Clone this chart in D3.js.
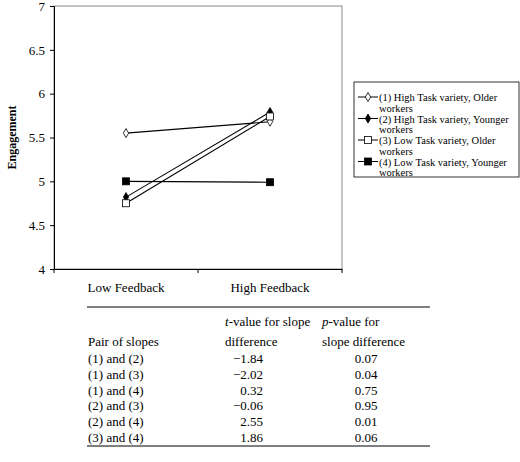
<!DOCTYPE html>
<html><head><meta charset="utf-8">
<script src="https://cdn.jsdelivr.net/npm/d3@7"></script>
<style>body{margin:0;background:#fff;} svg text{font-family:"Liberation Serif","Times New Roman",Tinos,serif !important;fill:#000;}</style>
</head><body><div id="chart"></div>
<script>
var categories = ["Low Feedback", "High Feedback"];
var seriesNames = ["(1) High Task variety, Older workers", "(2) High Task variety, Younger workers",
                   "(3) Low Task variety, Older workers", "(4) Low Task variety, Younger workers"];
var legendLines = [["(1) High Task variety, Older", "workers"], ["(2) High Task variety, Younger", "workers"],
                   ["(3) Low Task variety, Older", "workers"], ["(4) Low Task variety, Younger", "workers"]];
var series1 = [5.55, 5.68];
var series2 = [4.82, 5.79];
var series3 = [4.75, 5.74];
var series4 = [5.00, 4.99];
var yTicks = [4, 4.5, 5, 5.5, 6, 6.5, 7];
var tablePairs = ["(1) and (2)", "(1) and (3)", "(1) and (4)", "(2) and (3)", "(2) and (4)", "(3) and (4)"];
var tValues = ["\u22121.84", "\u22122.02", "0.32", "\u22120.06", "2.55", "1.86"];
var pValues = ["0.07", "0.04", "0.75", "0.95", "0.01", "0.06"];

var svg = d3.select("#chart").append("svg").attr("width", 520).attr("height", 462)
  .attr("font-family", "Liberation Serif, Times New Roman, serif");
var margin = {left: 54, top: 6, right: 342, bottom: 269};

var x = d3.scaleBand().domain(categories).range([margin.left, margin.right]);
var y = d3.scaleLinear().domain([4, 7]).range([margin.bottom, margin.top]);

// plot frame
svg.append("rect").attr("x", margin.left).attr("y", margin.top)
  .attr("width", margin.right - margin.left).attr("height", margin.bottom - margin.top)
  .attr("fill", "none").attr("stroke", "#888").attr("stroke-width", 1);

var yAxis = svg.append("g").attr("transform", "translate(" + margin.left + ",0)")
  .call(d3.axisLeft(y).tickValues(yTicks).tickFormat(d3.format("")).tickSize(4));
yAxis.attr("font-family", null);
yAxis.select(".domain").attr("stroke", "#000");
yAxis.selectAll("text").style("font-size", "13px").attr("dx", "-2");

var xAxis = svg.append("g").attr("transform", "translate(0," + margin.bottom + ")")
  .call(d3.axisBottom(x).tickSize(0).tickPadding(14));
xAxis.attr("font-family", null);
xAxis.select(".domain").attr("stroke", "#000");
xAxis.selectAll("text").style("font-size", "13px");
// band boundary ticks
svg.selectAll(".btick").data([0, 1, 2]).enter().append("line")
  .attr("x1", function(d) { return margin.left + d * x.bandwidth(); })
  .attr("x2", function(d) { return margin.left + d * x.bandwidth(); })
  .attr("y1", margin.bottom).attr("y2", margin.bottom + 4).attr("stroke", "#000");

svg.append("text").attr("transform", "translate(16," + y(5.5) + ") rotate(-90)")
  .attr("text-anchor", "middle").style("font-size", "12px").style("font-weight", "bold").text("Engagement");

var allSeries = [series1, series2, series3, series4];
var markers = ["diamondOpen", "diamond", "squareOpen", "square"];
var line = d3.line().x(function(d, i) { return x(categories[i]) + x.bandwidth() / 2; }).y(function(d) { return y(d); });

function drawMarker(g, type, cx, cy) {
  if (type.indexOf("diamond") === 0) {
    g.append("path").attr("d", d3.symbol(d3.symbolDiamond, 24)())
      .attr("transform", "translate(" + cx + "," + cy + ")")
      .attr("fill", type === "diamond" ? "#000" : "#fff").attr("stroke", "#000").attr("stroke-width", 0.8);
  } else {
    g.append("rect").attr("x", cx - 3.5).attr("y", cy - 3.5).attr("width", 7).attr("height", 7)
      .attr("fill", type === "square" ? "#000" : "#fff").attr("stroke", "#000").attr("stroke-width", 0.8);
  }
}

allSeries.forEach(function(s, k) {
  svg.append("path").datum(s).attr("d", line).attr("fill", "none").attr("stroke", "#000").attr("stroke-width", 1.1);
});
allSeries.forEach(function(s, k) {
  s.forEach(function(v, i) { drawMarker(svg, markers[k], x(categories[i]) + x.bandwidth() / 2, y(v)); });
});

// legend
var lg = svg.append("g");
lg.append("rect").attr("x", 354).attr("y", 82).attr("width", 165).attr("height", 95)
  .attr("fill", "#fff").attr("stroke", "#000").attr("stroke-width", 0.8);
legendLines.forEach(function(lines, k) {
  var ly = 97 + k * 21.5;
  lg.append("line").attr("x1", 358).attr("x2", 378).attr("y1", ly).attr("y2", ly).attr("stroke", "#000");
  drawMarker(lg, markers[k], 368, ly);
  lg.append("text").attr("x", 379).attr("y", ly + 4).style("font-size", "10.5px").text(lines[0]);
  lg.append("text").attr("x", 379).attr("y", ly + 14.5).style("font-size", "10.5px").text(lines[1]);
});

// table
var t = svg.append("g");
t.append("line").attr("x1", 87).attr("x2", 430).attr("y1", 307).attr("y2", 307).attr("stroke", "#000");
t.append("line").attr("x1", 87).attr("x2", 430).attr("y1", 446).attr("y2", 446).attr("stroke", "#000");
var fs = "13px";
t.append("text").attr("x", 88).attr("y", 346).style("font-size", fs).text("Pair of slopes");
var h1 = t.append("text").attr("x", 225).attr("y", 326).style("font-size", fs);
h1.append("tspan").style("font-style", "italic").text("t");
h1.append("tspan").text("-value for slope");
t.append("text").attr("x", 225).attr("y", 346).style("font-size", fs).text("difference");
var h2 = t.append("text").attr("x", 322).attr("y", 326).style("font-size", fs);
h2.append("tspan").style("font-style", "italic").text("p");
h2.append("tspan").text("-value for");
t.append("text").attr("x", 322).attr("y", 346).style("font-size", fs).text("slope difference");

var rowY = d3.scaleBand().domain(tablePairs).range([350, 445]);
tablePairs.forEach(function(p, i) {
  var by = rowY(p) + rowY.bandwidth() / 2 + 5;
  t.append("text").attr("x", 88).attr("y", by).style("font-size", fs).text(p);
  t.append("text").attr("x", 263).attr("y", by).attr("text-anchor", "end").style("font-size", fs).text(tValues[i]);
  t.append("text").attr("x", 366).attr("y", by).attr("text-anchor", "middle").style("font-size", fs).text(pValues[i]);
});
</script></body></html>
